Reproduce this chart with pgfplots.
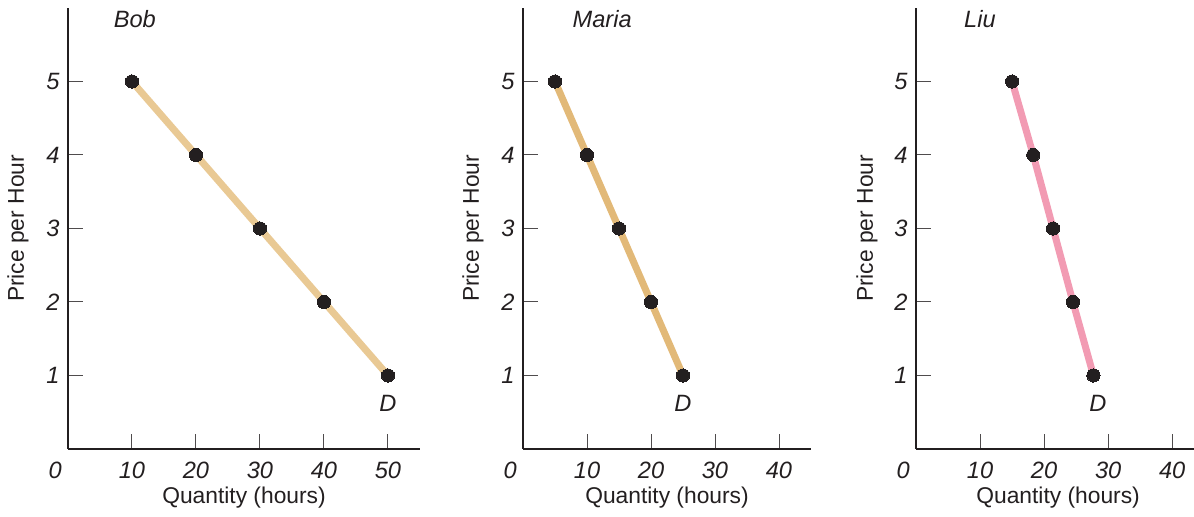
\documentclass[border=0pt]{standalone}
\usepackage{fontspec}
\setmainfont{Liberation Sans}
\usepackage{pgfplots}
\pgfplotsset{compat=1.18}
\definecolor{bobc}{HTML}{E9C994}
\definecolor{mariac}{HTML}{E2B978}
\definecolor{liuc}{HTML}{F29BB3}
\definecolor{ink}{HTML}{231F20}
\tikzset{lab/.style={font=\fontsize{11.8}{13}\selectfont\itshape, text=ink}}
\pgfplotsset{
  panel/.style={
    scale only axis,
    height=220.5pt,
    xmin=0, ymin=0, ymax=6,
    axis x line*=bottom, axis y line*=left,
    axis line style={line width=1.4pt, color=ink, -},
    tick align=inside,
    major tick length=7.5pt,
    tick style={line width=0.5pt, color=ink!80},
    ytick={1,2,3,4,5},
    /pgf/number format/assume math mode=true,
    tick label style={font=\fontsize{11.8}{13}\selectfont\itshape, text=ink},
    xticklabel style={anchor=center, yshift=-10.5pt},
    yticklabel style={anchor=center, xshift=-7.5pt},
    label style={font=\fontsize{11.4}{13}\selectfont, text=ink},
    clip=false,
  },
  dem/.style={line width=3.5pt, mark=*, mark size=3.3pt,
    mark options={fill=ink, draw=ink, line width=0pt}},
}
\begin{document}
\begin{tikzpicture}
\path[use as bounding box] (0pt,0pt) rectangle (597pt,258.5pt);
% Bob
\begin{axis}[panel, at={(34pt,34pt)}, anchor=south west, width=176pt, xmax=55,
  xtick={10,20,30,40,50},
  xlabel={Quantity (hours)}, ylabel={Price per Hour},
  xlabel style={at={(axis description cs:0.5,-0.111)}, anchor=center},
  ylabel style={at={(axis description cs:-0.142,0.5)}, anchor=center}]
  \addplot[dem, color=bobc] coordinates {(10,5) (20,4) (30,3) (40,2) (50,1)};
  \node[lab] at (axis description cs:0.19,0.975) {Bob};
  \node[lab] at (axis cs:50,0.626) {D};
  \node[lab] at (axis cs:-2.0,-0.29) {0};
\end{axis}
% Maria
\begin{axis}[panel, at={(261.5pt,34pt)}, anchor=south west, width=144pt, xmax=45,
  xtick={10,20,30,40},
  xlabel={Quantity (hours)}, ylabel={Price per Hour},
  xlabel style={at={(axis description cs:0.5,-0.111)}, anchor=center},
  ylabel style={at={(axis description cs:-0.174,0.5)}, anchor=center}]
  \addplot[dem, color=mariac] coordinates {(5,5) (10,4) (15,3) (20,2) (25,1)};
  \node[lab] at (axis description cs:0.275,0.975) {Maria};
  \node[lab] at (axis cs:25,0.626) {D};
  \node[lab] at (axis cs:-2.0,-0.29) {0};
\end{axis}
% Liu
\begin{axis}[panel, at={(458pt,34pt)}, anchor=south west, width=139pt, xmax=43.4,
  xtick={10,20,30,40},
  xlabel={Quantity (hours)}, ylabel={Price per Hour},
  xlabel style={at={(axis description cs:0.511,-0.111)}, anchor=center},
  ylabel style={at={(axis description cs:-0.176,0.5)}, anchor=center}]
  \addplot[dem, color=liuc] coordinates {(15,5) (18.3,4) (21.4,3) (24.5,2) (27.7,1)};
  \node[lab] at (axis description cs:0.23,0.975) {Liu};
  \node[lab] at (axis cs:28.4,0.626) {D};
  \node[lab] at (axis cs:-2.0,-0.29) {0};
\end{axis}
\end{tikzpicture}
\end{document}
